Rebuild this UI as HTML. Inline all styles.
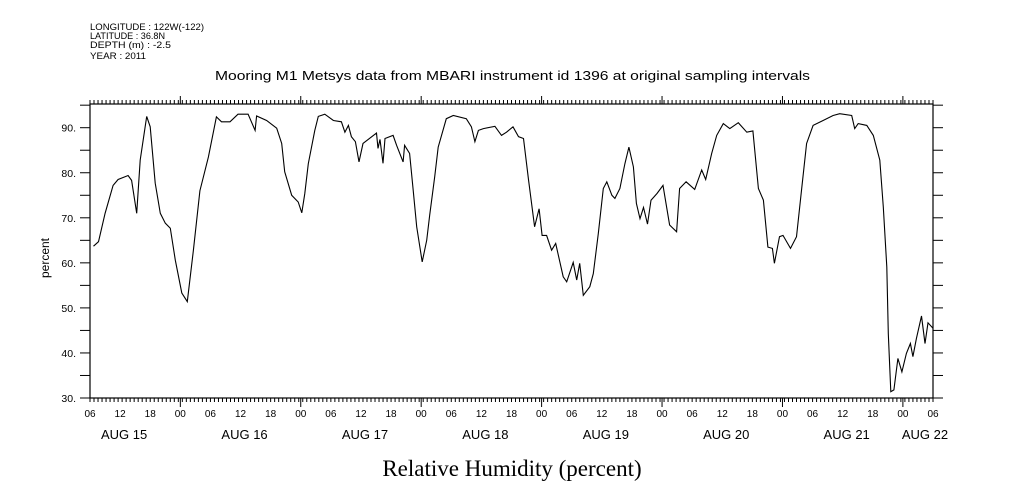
<!DOCTYPE html>
<html><head><meta charset="utf-8"><style>
body{margin:0;background:#fff;width:1009px;height:504px;overflow:hidden}
svg{display:block}
text{font-family:"Liberation Sans",sans-serif;fill:#000}
</style></head><body>
<svg id="chart" width="1009" height="504" viewBox="0 0 1009 504">
<g font-size="9">
<text x="90" y="30" textLength="114" lengthAdjust="spacingAndGlyphs">LONGITUDE : 122W(-122)</text>
<text x="90" y="39" textLength="75" lengthAdjust="spacingAndGlyphs">LATITUDE : 36.8N</text>
<text x="90" y="48" textLength="81" lengthAdjust="spacingAndGlyphs">DEPTH (m) : -2.5</text>
<text x="90" y="59" textLength="56" lengthAdjust="spacingAndGlyphs">YEAR : 2011</text>
</g>
<text x="215" y="80" textLength="595" lengthAdjust="spacingAndGlyphs" font-size="13">Mooring M1 Metsys data from MBARI instrument id 1396 at original sampling intervals</text>
<text x="512" y="476" text-anchor="middle" font-size="23" style="font-family:'Liberation Serif',serif">Relative Humidity (percent)</text>
<text transform="translate(49,258) rotate(-90)" text-anchor="middle" font-size="12">percent</text>
<rect x="90" y="104" width="843" height="294" fill="none" stroke="#000" stroke-width="1.2"/>
<g id="axes"></g>
<path id="line" fill="none" stroke="#000" stroke-width="1.1"/>
</svg>
<script>
// hours since AUG 15 06:00
const hours=[0.7,1.7,3,4.6,5.6,7.6,8.3,9.3,10,11.3,12,13,14,15,16,17,18.3,19.4,20.6,21.9,23.6,25.2,26.2,27.9,29.5,31.5,32.9,33.2,35.2,37.2,38.2,38.8,40.2,41.5,42.2,42.8,43.5,44.8,45.5,46.8,48.5,50.1,50.8,51.5,52.1,52.9,53.6,54.4,57.1,57.4,57.8,58.4,58.8,60.4,61.1,62.4,62.7,63.7,64.4,65.1,66.2,67.1,67.7,68.7,69.4,71,72.4,75,76,76.7,77.4,78.4,80.7,82,83,84.3,85.4,86.4,87.4,88.6,89.5,90.1,91,92,92.8,94.3,95,96.3,97,97.6,98.3,99.6,100.3,101.3,102.3,103,104,104.6,105.6,106.6,107.4,108.3,108.9,109.6,110.3,111.1,111.8,113,114.2,115.5,116.9,117.5,118.8,120.5,121.9,122.7,123.9,124.9,126.2,127.5,129.2,130.9,132.1,133.2,134.2,135.1,136,136.4,137.4,138.1,139.6,140.8,141.8,142.8,144.1,146.1,148.1,149.4,151.8,152.4,153.1,154.8,156.1,157.4,158.1,158.8,159.1,159.6,160.2,161,161.8,162.7,163.5,164,164.7,165.7,166.4,167,168];
const humidity=[63.7,64.7,71,77.2,78.5,79.4,78.3,71,82.8,92.5,90.2,77.7,71,68.8,67.7,60.6,53.3,51.4,62.8,76,83.5,92.4,91.3,91.3,93,93,89.4,92.6,91.6,89.9,86.5,80.2,75,73.5,71.1,75.4,82,89.4,92.5,93,91.6,91.3,89,90.5,88,86.9,82.4,86.5,88.8,85.4,87.4,82.1,87.6,88.3,86.1,82.4,86.1,84.3,76.1,68,60.2,65,70.6,79.1,85.7,92,92.7,92,90.2,86.9,89.4,89.8,90.3,88.3,89,90.2,88,87.6,78.3,68,72,66.1,66.1,62.8,64.3,56.9,55.8,60.1,56.2,59.9,52.8,54.7,57.6,66.5,76.5,78,75,74.3,76.5,82,85.7,81.3,73.2,69.8,72.3,68.6,73.9,75.4,77.2,68.4,66.9,76.5,78,76.3,80.6,78.5,84.3,88.3,90.9,89.8,91.1,89,89.3,76.5,73.9,63.5,63.2,59.9,65.8,66.1,63.2,65.8,76.1,86.5,90.5,91.6,92.7,93.1,92.7,89.8,90.9,90.5,88.3,82.8,72.4,59.1,44.3,31.4,31.8,38.8,35.8,39.9,42.1,39.2,43.2,48.2,42.1,46.7,45.5];
const yTicks=[30,40,50,60,70,80,90];
const hourLabels=["06","12","18","00"];
const dayLabels=["AUG 15","AUG 16","AUG 17","AUG 18","AUG 19","AUG 20","AUG 21","AUG 22"];
const X0=90,X1=933,Y0=398,Y1=127.7,TMAX=168;
const xs=t=>X0+t*(X1-X0)/TMAX;
const ys=v=>Y0-(v-30)*(Y0-Y1)/60;
const NS="http://www.w3.org/2000/svg";
const g=document.getElementById('axes');
function ln(x1,y1,x2,y2,name){const l=document.createElementNS(NS,'line');l.setAttribute('x1',x1);l.setAttribute('y1',y1);l.setAttribute('x2',x2);l.setAttribute('y2',y2);l.setAttribute('stroke','#000');


g.appendChild(l);}
function tx(x,y,s,anchor,size,name){const t=document.createElementNS(NS,'text');t.setAttribute('x',x);t.setAttribute('y',y);t.setAttribute('text-anchor',anchor);t.setAttribute('font-size',size);t.textContent=s;


g.appendChild(t);}
// y ticks every 5
for(let v=30;v<=95;v+=5){const y=ys(v);if(y<104)continue;ln(X0-10,y,X0,y,'y-tick-left');ln(X1,y,X1+10,y,'y-tick-right');}
yTicks.forEach(v=>tx(X0-14,ys(v)+4,v+'.','end',10.5,'y-tick-label'));
// x minor ticks
for(let t=0;t<=TMAX+0.01;t+=0.8){const x=xs(t);ln(x,Y0,x,Y0+4,'x-minor-tick-bottom');ln(x,104,x,100,'x-minor-tick-top');}
for(let t=18;t<=TMAX;t+=24){const x=xs(t);ln(x,Y0,x,Y0+9,'x-major-tick-bottom');ln(x,104,x,96,'x-major-tick-top');}
for(let i=0;i*6<=TMAX;i++){tx(xs(i*6),417,hourLabels[i%4],'middle',10,'x-hour-label');}
dayLabels.forEach((d,i)=>{let x=xs(6+24*i)+4;if(x>915)x=925;tx(x,439,d,'middle',13,'x-day-label');});
let d='';hours.forEach((h,i)=>{d+=(i?'L':'M')+xs(h).toFixed(1)+' '+ys(humidity[i]).toFixed(1);});
document.getElementById('line').setAttribute('d',d);
</script>
</body></html>
